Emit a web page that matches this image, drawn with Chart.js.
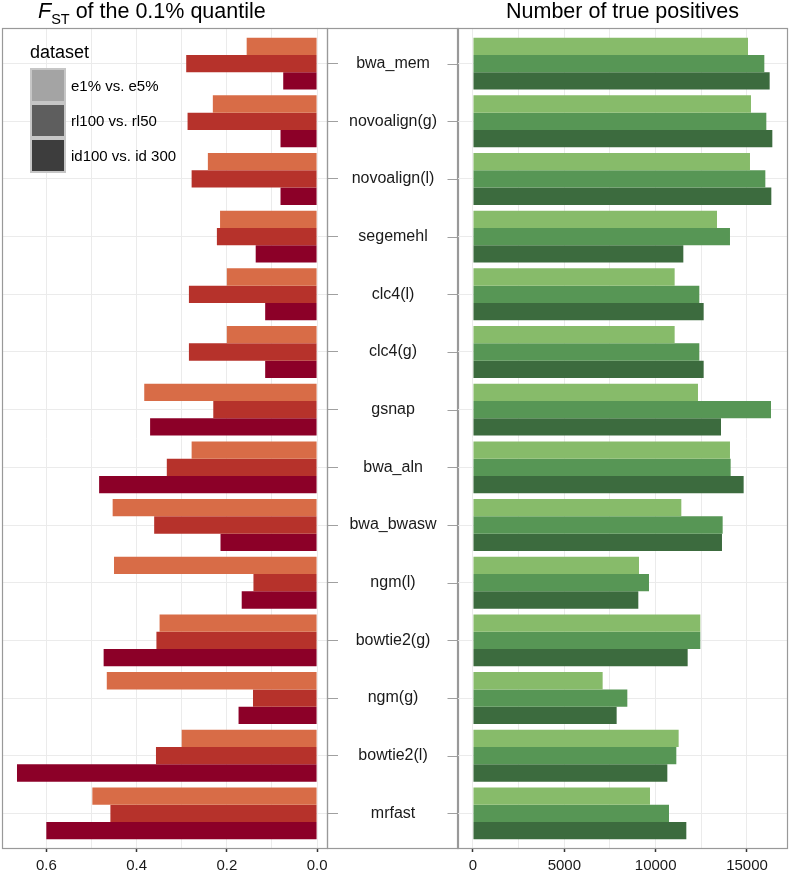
<!DOCTYPE html>
<html>
<head>
<meta charset="utf-8">
<script src="https://cdn.jsdelivr.net/npm/chart.js@4"></script>
<style>
  body { margin: 0; background: #fff; font-family: "Liberation Sans", Arial, Helvetica, sans-serif; }
  #wrap { position: relative; width: 789px; height: 872px; overflow: hidden; }
  canvas { position: absolute; top: 0; }
  .title { position: absolute; top: 1px; font-size: 21.5px; line-height: 1; color: #000; white-space: nowrap; }
  .title sub { font-size: 14.5px; vertical-align: baseline; position: relative; top: 6px; }
  #legend { position: absolute; left: 30px; top: 43px; color: #000; }
  #legend .lt { font-size: 18px; line-height: 1; height: 25px; }
  #legend .row { height: 35px; line-height: 35px; font-size: 15px; white-space: nowrap; }
  #legend .key { display: inline-block; width: 32px; height: 31px; vertical-align: top; border: 2px solid #c6c6c6; margin-right: 5px; }
</style>
</head>
<body>
<div id="wrap">
  <canvas id="fstChart" width="460" height="872" style="left:0"></canvas>
  <canvas id="tpChart" width="349" height="872" style="left:440px"></canvas>
  <div class="title" style="left:38px"><i>F</i><sub>ST</sub> of the 0.1% quantile</div>
  <div class="title" style="left:458px;width:329px;text-align:center">Number of true positives</div>
  <div id="legend"></div>
</div>
<script>
const categories = ['bwa_mem', 'novoalign(g)', 'novoalign(l)', 'segemehl', 'clc4(l)', 'clc4(g)', 'gsnap',
                    'bwa_aln', 'bwa_bwasw', 'ngm(l)', 'bowtie2(g)', 'ngm(g)', 'bowtie2(l)', 'mrfast'];
const datasetNames = ['e1% vs. e5%', 'rl100 vs. rl50', 'id100 vs. id 300'];

// F_ST of the 0.1% quantile
const fstE1 = [0.156, 0.231, 0.242, 0.215, 0.200, 0.200, 0.383, 0.278, 0.453, 0.450, 0.349, 0.466, 0.300, 0.498];
const fstRl = [0.290, 0.287, 0.278, 0.222, 0.284, 0.284, 0.230, 0.333, 0.361, 0.141, 0.356, 0.142, 0.357, 0.458];
const fstId = [0.075, 0.081, 0.081, 0.136, 0.115, 0.115, 0.370, 0.483, 0.214, 0.167, 0.473, 0.174, 0.665, 0.600];

// number of true positives
const tpE1 = [15055, 15219, 15164, 13358, 11040, 11040, 12317, 14069, 11405, 9088, 12445, 7098, 11259, 9690];
const tpRl = [15949, 16058, 16004, 14069, 12390, 12390, 16314, 14106, 13668, 9635, 12445, 8449, 11131, 10730];
const tpId = [16241, 16387, 16332, 11515, 12628, 12628, 13577, 14817, 13631, 9051, 11752, 7865, 10639, 11679];

const fstTicks = [0, 0.1, 0.2, 0.3, 0.4, 0.5, 0.6];
const fstTickLabels = ['0.0', '', '0.2', '', '0.4', '', '0.6'];
const tpTicks = [0, 2500, 5000, 7500, 10000, 12500, 15000];
const tpTickLabels = ['0', '', '5000', '', '10000', '', '15000'];

const fstColors = ['#d86c47', '#b6322b', '#8c0028'];
const tpColors = ['#87bb6a', '#579655', '#3c6b3e'];
const legendColors = ['#a4a4a4', '#5e5e5e', '#3d3d3d'];

const FONT = '"Liberation Sans", Arial, Helvetica, sans-serif';
const GRID = '#ebebeb';
const FRAME = '#999999';

const toPoints = vals => vals.map((v, i) => ({ x: v, y: i }));

function makeDatasets(series, colors) {
  return series.map((vals, k) => ({
    label: datasetNames[k],
    data: toPoints(vals),
    backgroundColor: colors[k],
    borderWidth: 0,
    barPercentage: 1.0,
    categoryPercentage: 0.9
  }));
}

// panel frames (and the middle label box on the left chart)
const panelFrame = {
  id: 'panelFrame',
  afterDraw(chart, args, opts) {
    const { ctx, chartArea: a } = chart;
    ctx.save();
    ctx.strokeStyle = FRAME;
    ctx.lineWidth = 1.2;
    ctx.strokeRect(a.left - 0.5, a.top - 0.5, a.right - a.left + 1, a.bottom - a.top + 1);
    if (opts.middle) {
      const ys = chart.scales.y;
      const rx = a.right + 0.5 + opts.middle;
      ctx.strokeRect(a.right + 0.5, a.top - 0.5, opts.middle, a.bottom - a.top + 1);
      ctx.strokeStyle = '#a0a0a0';
      ctx.lineWidth = 1;
      ys.ticks.forEach(t => {
        const p = Math.round(ys.getPixelForValue(t.value)) + 0.5;
        ctx.beginPath();
        ctx.moveTo(rx - 11, p);
        ctx.lineTo(rx, p);
        ctx.stroke();
      });
    }
    ctx.restore();
  }
};

const yRange = { min: -0.6, max: 13.6 };

new Chart(document.getElementById('fstChart'), {
  type: 'bar',
  data: { datasets: makeDatasets([fstE1, fstRl, fstId], fstColors) },
  plugins: [panelFrame],
  options: {
    responsive: false,
    animation: false,
    indexAxis: 'y',
    layout: { padding: { left: 3, right: 2, top: 29, bottom: 0 } },
    scales: {
      x: {
        type: 'linear',
        reverse: true,
        min: -0.022,
        max: 0.696,
        afterBuildTicks: s => { s.ticks = fstTicks.map(v => ({ value: v })); },
        afterFit: s => { s.height = 24; },
        grid: { color: GRID, tickLength: 4, tickColor: ctx => (ctx.index % 2 === 0 ? '#333' : 'rgba(0,0,0,0)'), tickWidth: 1.5 },
        border: { display: false },
        ticks: {
          autoSkip: false, maxRotation: 0, padding: 5,
          color: '#1a1a1a', font: { family: FONT, size: 15 },
          callback: (v, i) => fstTickLabels[i]
        }
      },
      y: {
        type: 'linear',
        position: 'right',
        reverse: true,
        offset: false,
        min: yRange.min,
        max: yRange.max,
        afterBuildTicks: s => { s.ticks = categories.map((c, i) => ({ value: i })); },
        afterFit: s => { s.width = 131; },
        grid: { color: GRID, offset: false, tickLength: 11, tickColor: '#a0a0a0' },
        border: { display: false },
        ticks: {
          autoSkip: false, crossAlign: 'center', padding: 11,
          color: '#1a1a1a', font: { family: FONT, size: 16 },
          callback: v => categories[v]
        }
      }
    },
    plugins: {
      legend: { display: false },
      tooltip: { enabled: false },
      panelFrame: { middle: 131 }
    }
  }
});

new Chart(document.getElementById('tpChart'), {
  type: 'bar',
  data: { datasets: makeDatasets([tpE1, tpRl, tpId], tpColors) },
  plugins: [panelFrame],
  options: {
    responsive: false,
    animation: false,
    indexAxis: 'y',
    layout: { padding: { left: 18, right: 2, top: 29, bottom: 0 } },
    scales: {
      x: {
        type: 'linear',
        min: -820,
        max: 17190,
        afterBuildTicks: s => { s.ticks = tpTicks.map(v => ({ value: v })); },
        afterFit: s => { s.height = 24; },
        grid: { color: GRID, tickLength: 4, tickColor: ctx => (ctx.index % 2 === 0 ? '#333' : 'rgba(0,0,0,0)'), tickWidth: 1.5 },
        border: { display: false },
        ticks: {
          autoSkip: false, maxRotation: 0, padding: 5,
          color: '#1a1a1a', font: { family: FONT, size: 15 },
          callback: (v, i) => tpTickLabels[i]
        }
      },
      y: {
        type: 'linear',
        position: 'left',
        reverse: true,
        offset: false,
        min: yRange.min,
        max: yRange.max,
        afterBuildTicks: s => { s.ticks = categories.map((c, i) => ({ value: i })); },
        afterFit: s => { s.width = 0; },
        grid: { color: GRID, offset: false, drawTicks: false },
        border: { display: false },
        ticks: { display: false }
      }
    },
    plugins: {
      legend: { display: false },
      tooltip: { enabled: false },
      panelFrame: {}
    }
  }
});

// legend for the three datasets (grey keys, as in the original)
const legend = document.getElementById('legend');
legend.innerHTML = '<div class="lt">dataset</div>' +
  datasetNames.map((n, k) =>
    '<div class="row"><span class="key" style="background:' + legendColors[k] + '"></span>' + n + '</div>'
  ).join('');
</script>
</body>
</html>
